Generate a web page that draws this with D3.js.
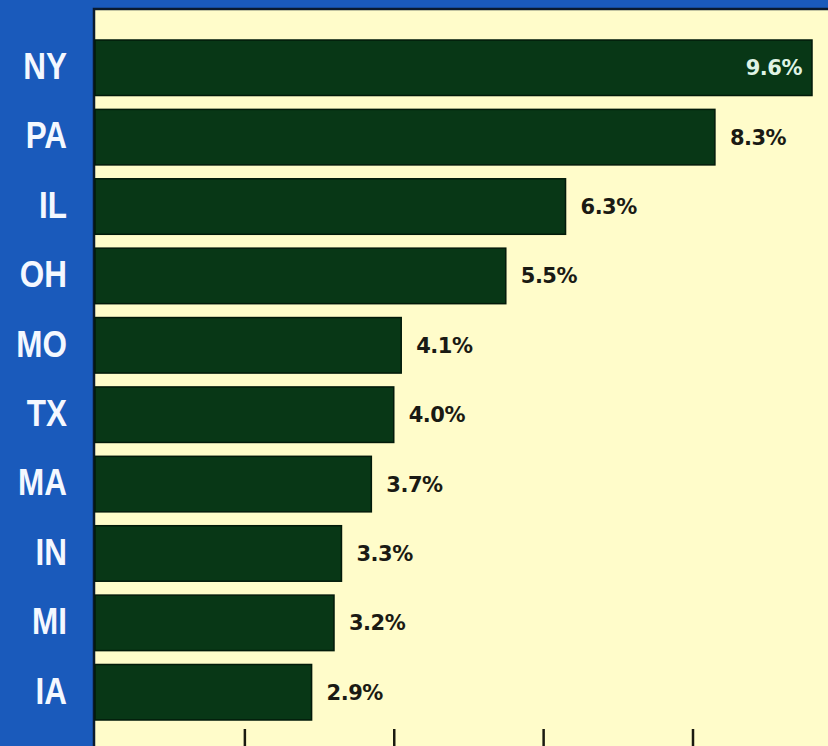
<!DOCTYPE html>
<html>
<head>
<meta charset="utf-8">
<script src="https://cdn.jsdelivr.net/npm/d3@7"></script>
<style>
  html, body { margin: 0; padding: 0; background: #1a5abb; }
  svg { display: block; }
</style>
</head>
<body>
<svg id="chart" width="828" height="746"></svg>
<script>
// Share by state, top ten
const states = ["NY", "PA", "IL", "OH", "MO", "TX", "MA", "IN", "MI", "IA"];
const shares = [9.6, 8.3, 6.3, 5.5, 4.1, 4.0, 3.7, 3.3, 3.2, 2.9];
const tickValues = [2, 4, 6, 8];

const W = 828, H = 746;
const plotLeft = 95, plotTop = 10;

const svg = d3.select("#chart");

// blue frame and cream plot panel
svg.append("rect").attr("width", W).attr("height", H).attr("fill", "#1a5abb");
svg.append("rect")
  .attr("x", plotLeft).attr("y", plotTop)
  .attr("width", W - plotLeft).attr("height", H - plotTop)
  .attr("fill", "#fffcca");
svg.append("path")
  .attr("d", `M${plotLeft - 1},${H} V${plotTop - 1} H${W}`)
  .attr("fill", "none").attr("stroke", "#0a1a2e").attr("stroke-width", 2.5);

const x = d3.scaleLinear().domain([0, 9.6]).range([plotLeft, 812]);
const y = d3.scaleBand().domain(states).range([40, 720]).paddingInner(0.2).paddingOuter(0);

const data = states.map((s, i) => ({ state: s, value: shares[i] }));

// bars
svg.append("g").selectAll("rect")
  .data(data).join("rect")
  .attr("x", x(0))
  .attr("y", d => y(d.state))
  .attr("width", d => x(d.value) - x(0))
  .attr("height", y.bandwidth())
  .attr("fill", "#083716")
  .attr("stroke", "#021a0a")
  .attr("stroke-width", 1.5);

// value labels
svg.append("g").selectAll("text")
  .data(data).join("text")
  .attr("x", (d, i) => i === 0 ? x(d.value) - 10 : x(d.value) + 15)
  .attr("y", d => y(d.state) + y.bandwidth() / 2)
  .attr("dy", "0.36em")
  .attr("text-anchor", (d, i) => i === 0 ? "end" : "start")
  .attr("fill", (d, i) => i === 0 ? "#dff3e4" : "#1a1a14")
  .style("font-family", "'DejaVu Sans', sans-serif")
  .style("font-weight", "bold")
  .style("font-size", "21px")
  .style("letter-spacing", "-0.5px")
  .text(d => d.value.toFixed(1) + "%");

// state labels on the blue strip
svg.append("g").selectAll("text")
  .data(data).join("text")
  .attr("transform", d => `translate(67,${y(d.state) + y.bandwidth() / 2 - 2}) scale(0.85,1)`)
  .attr("dy", "0.36em")
  .attr("text-anchor", "end")
  .attr("fill", "#f4f8ff")
  .style("font-family", "'Liberation Sans', Arial, sans-serif")
  .style("font-weight", "bold")
  .style("font-size", "37px")
  .text(d => d.state);

// bottom axis ticks
const axis = d3.axisBottom(x).tickValues(tickValues).tickSize(-17).tickFormat("");
const gAxis = svg.append("g").attr("transform", `translate(0,${H})`).call(axis);
gAxis.select(".domain").remove();
gAxis.selectAll(".tick line").attr("stroke", "#1a1a10").attr("stroke-width", 2.5);
</script>
</body>
</html>
